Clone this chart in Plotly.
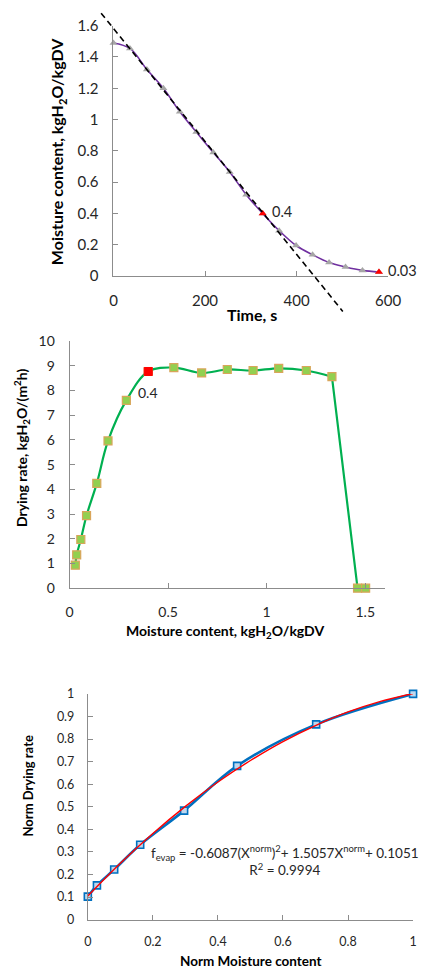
import plotly.graph_objects as go

W, H = 428, 980

# ---------------- data: chart 1 (moisture vs time) ----------------
time_s = [0, 36, 73, 109, 145, 181, 218, 254, 290, 326, 362, 399, 435, 471, 507, 544, 580]
moisture = [1.49, 1.455, 1.32, 1.20, 1.05, 0.92, 0.79, 0.665, 0.52, 0.40, 0.29, 0.195,
            0.136, 0.086, 0.058, 0.036, 0.025]
hl_time = [326, 580]
hl_moisture = [0.40, 0.025]
hl_labels = ["0.4", "0.03"]
tangent_time = [-27, 501]
tangent_moisture = [1.68, -0.226]
top_xticks = [0, 200, 400, 600]
top_yticks = [0, 0.2, 0.4, 0.6, 0.8, 1, 1.2, 1.4, 1.6]
top_yticktext = ["0", "0.2", "0.4", "0.6", "0.8", "1", "1.2", "1.4", "1.6"]

# ---------------- data: chart 2 (drying rate vs moisture) ----------------
mc = [0.029, 0.036, 0.057, 0.086, 0.138, 0.195, 0.288, 0.399, 0.529, 0.670, 0.800,
      0.931, 1.061, 1.201, 1.331, 1.461, 1.502]
rate = [0.93, 1.35, 1.97, 2.94, 4.24, 5.96, 7.60, 8.77, 8.93, 8.71, 8.85, 8.81, 8.90,
        8.81, 8.56, 0.0, 0.0]
falling_start = 14  # index from which the curve drops almost straight
crit_mc = [0.399]
crit_rate = [8.77]
crit_label = ["0.4"]
mid_xticks = [0, 0.5, 1, 1.5]
mid_xticktext = ["0", "0.5", "1", "1.5"]
mid_yticks = [0, 1, 2, 3, 4, 5, 6, 7, 8, 9, 10]

# ---------------- data: chart 3 (normalised) ----------------
x_norm = [0, 0.028, 0.081, 0.161, 0.296, 0.459, 0.702, 1.0]
f_norm = [0.102, 0.152, 0.222, 0.332, 0.483, 0.681, 0.865, 1.0]
trend_x = [0, 0.1, 0.2, 0.3, 0.4, 0.5, 0.6, 0.7, 0.8, 0.9, 1.0]
trend_y = [0.105, 0.250, 0.382, 0.502, 0.610, 0.705, 0.789, 0.860, 0.920, 0.967, 1.002]
bot_xticks = [0, 0.2, 0.4, 0.6, 0.8, 1]
bot_xticktext = ["0", "0.2", "0.4", "0.6", "0.8", "1"]
bot_yticks = [0, 0.1, 0.2, 0.3, 0.4, 0.5, 0.6, 0.7, 0.8, 0.9, 1]
bot_yticktext = ["0", "0.1", "0.2", "0.3", "0.4", "0.5", "0.6", "0.7", "0.8", "0.9", "1"]
equation = ("f<sub>evap</sub> = -0.6087(X<sup>norm</sup>)<sup>2</sup>+ 1.5057X<sup>norm</sup>"
            "+ 0.1051<br>R<sup>2</sup> = 0.9994")

# ---------------- layout geometry (pixels) ----------------
FONT = "Lato"
AX = "#8c8c8c"
TXT = "#262626"


def xd(a, b):
    return [a / W, b / W]


def yd(top, bot):
    return [1 - bot / H, 1 - top / H]


def px(x):
    return x / W


def py(y):
    return 1 - y / H


T_X0, T_X1, T_Y0, T_Y1 = 114, 400, 271, 16
T_XR, T_YR = [0, 600], [0, 1.6]
M_X0, M_X1, M_Y0, M_Y1 = 68.3, 396.7, 589, 337.3
M_XR, M_YR = [0, 1.6], [0, 10]
B_X0, B_X1, B_Y0, B_Y1 = 87.3, 426, 926.7, 696.7
B_XR, B_YR = [0, 1], [0, 1]

fig = go.Figure()

# chart 1 traces
fig.add_trace(go.Scatter(x=time_s, y=moisture, mode="lines+markers",
                         line=dict(color="#7030A0", width=1.6, shape="spline", smoothing=1),
                         marker=dict(symbol="triangle-up", size=7, color="#A6A6A6"),
                         cliponaxis=False, xaxis="x", yaxis="y", showlegend=False))
fig.add_trace(go.Scatter(x=hl_time, y=hl_moisture, mode="markers",
                         marker=dict(symbol="triangle-up", size=7, color="#FF0000"),
                         cliponaxis=False, xaxis="x", yaxis="y", showlegend=False))
# tangent (overlay axes so it can run past the axis frame)
fig.add_trace(go.Scatter(x=tangent_time, y=tangent_moisture, mode="lines",
                         line=dict(color="#000000", width=1.6, dash="6px,4px"),
                         xaxis="x2", yaxis="y2", showlegend=False))

# chart 2 traces
fig.add_trace(go.Scatter(x=mc[:falling_start + 1], y=rate[:falling_start + 1], mode="lines",
                         line=dict(color="#00B050", width=2.2, shape="spline", smoothing=1),
                         xaxis="x3", yaxis="y3", showlegend=False))
fig.add_trace(go.Scatter(x=mc[falling_start:], y=rate[falling_start:], mode="lines",
                         line=dict(color="#00B050", width=2.2),
                         xaxis="x3", yaxis="y3", showlegend=False))
fig.add_trace(go.Scatter(x=mc, y=rate, mode="markers",
                         marker=dict(symbol="square", size=8, color="#92D050",
                                     line=dict(color="#D9A55A", width=1.2)),
                         cliponaxis=False, xaxis="x3", yaxis="y3", showlegend=False))
fig.add_trace(go.Scatter(x=crit_mc, y=crit_rate, mode="markers",
                         marker=dict(symbol="square", size=8, color="#FF0000",
                                     line=dict(color="#FF0000", width=1)),
                         cliponaxis=False, xaxis="x3", yaxis="y3", showlegend=False))

# chart 3 traces
fig.add_trace(go.Scatter(x=x_norm, y=f_norm, mode="lines+markers",
                         line=dict(color="#0070C0", width=2.6, shape="spline", smoothing=1),
                         marker=dict(symbol="square", size=7, color="#BDD7EE",
                                     line=dict(color="#0070C0", width=1.6)),
                         cliponaxis=False, xaxis="x4", yaxis="y4", showlegend=False))
fig.add_trace(go.Scatter(x=trend_x, y=trend_y, mode="lines",
                         line=dict(color="#FF0000", width=1.4, shape="spline", smoothing=1),
                         xaxis="x4", yaxis="y4", showlegend=False))


def axis_common(size, standoff):
    return dict(showline=True, linecolor=AX, linewidth=1, ticks="inside", ticklen=5,
                tickcolor=AX, tickwidth=1, showgrid=False, zeroline=False,
                tickfont=dict(family=FONT, size=size, color=TXT),
                ticklabelstandoff=standoff, fixedrange=True)


t_per_px = (T_XR[1] - T_XR[0]) / (T_X1 - T_X0)
m_per_px = (T_YR[1] - T_YR[0]) / (T_Y0 - T_Y1)
OV_TOP, OV_BOT = 0, 330
OV_L, OV_R = 60, 420
ov_xr = [T_XR[0] + (OV_L - T_X0) * t_per_px, T_XR[0] + (OV_R - T_X0) * t_per_px]
ov_yr = [T_YR[0] + (T_Y0 - OV_BOT) * m_per_px, T_YR[0] + (T_Y0 - OV_TOP) * m_per_px]

fig.update_layout(
    width=W, height=H, margin=dict(l=0, r=0, t=0, b=0),
    paper_bgcolor="white", plot_bgcolor="rgba(0,0,0,0)",
    xaxis=dict(domain=xd(T_X0, T_X1), range=T_XR, anchor="y", tickvals=top_xticks,
               **axis_common(15, 11)),
    yaxis=dict(domain=yd(T_Y1, T_Y0), range=T_YR, anchor="x", tickvals=top_yticks,
               ticktext=top_yticktext, **axis_common(15, 11)),
    xaxis2=dict(domain=xd(OV_L, OV_R), range=ov_xr, anchor="y2", visible=False,
                fixedrange=True),
    yaxis2=dict(domain=yd(OV_TOP, OV_BOT), range=ov_yr, anchor="x2", visible=False,
                fixedrange=True),
    xaxis3=dict(domain=xd(M_X0, M_X1), range=M_XR, anchor="y3", tickvals=mid_xticks,
                ticktext=mid_xticktext, **axis_common(14, 11)),
    yaxis3=dict(domain=yd(M_Y1, M_Y0), range=M_YR, anchor="x3", tickvals=mid_yticks,
                **axis_common(14, 11)),
    xaxis4=dict(domain=xd(B_X0, B_X1), range=B_XR, anchor="y4", tickvals=bot_xticks,
                ticktext=bot_xticktext, **axis_common(12.5, 10)),
    yaxis4=dict(domain=yd(B_Y1, B_Y0), range=B_YR, anchor="x4", tickvals=bot_yticks,
                ticktext=bot_yticktext, **axis_common(12.5, 10)),
)

ann = []
bold = dict(family=FONT, size=16, color="#000000")
ann.append(dict(text="<b>Moisture content, kgH<sub>2</sub>O/kgDV</b>", x=px(56), y=py(144),
                xref="paper", yref="paper", textangle=-90, showarrow=False, font=bold,
                xanchor="center", yanchor="middle"))
ann.append(dict(text="<b>Time, s</b>", x=px(258), y=py(310), xref="paper", yref="paper",
                showarrow=False, font=bold, xanchor="center", yanchor="middle"))
for t, m, lab in zip(hl_time, hl_moisture, hl_labels):
    ann.append(dict(text=lab, x=t, y=m, xref="x", yref="y", showarrow=False,
                    xanchor="left", yanchor="middle", xshift=7, yshift=2,
                    font=dict(family=FONT, size=14.5, color=TXT)))
ann.append(dict(text="<b>Drying rate, kgH<sub>2</sub>O/(m<sup>2</sup>h)</b>", x=px(19), y=py(446),
                xref="paper", yref="paper", textangle=-90, showarrow=False,
                font=dict(family=FONT, size=14, color="#000000"),
                xanchor="center", yanchor="middle"))
ann.append(dict(text="<b>Moisture content, kgH<sub>2</sub>O/kgDV</b>", x=px(230), y=py(633),
                xref="paper", yref="paper", showarrow=False,
                font=dict(family=FONT, size=14, color="#000000"),
                xanchor="center", yanchor="middle"))
for xv, yv, lab in zip(crit_mc, crit_rate, crit_label):
    ann.append(dict(text=lab, x=xv, y=yv, xref="x3", yref="y3", showarrow=False,
                    xanchor="center", yanchor="middle", yshift=-21,
                    font=dict(family=FONT, size=14, color=TXT)))
ann.append(dict(text="<b>Norm Drying rate</b>", x=px(26), y=py(790), xref="paper", yref="paper",
                textangle=-90, showarrow=False,
                font=dict(family=FONT, size=13, color="#000000"),
                xanchor="center", yanchor="middle"))
ann.append(dict(text="<b>Norm Moisture content</b>", x=px(257), y=py(969), xref="paper",
                yref="paper", showarrow=False,
                font=dict(family=FONT, size=13.5, color="#000000"),
                xanchor="center", yanchor="middle"))
ann.append(dict(text=equation, x=px(293), y=py(866), xref="paper", yref="paper",
                showarrow=False, align="center", xanchor="center", yanchor="middle",
                font=dict(family=FONT, size=13.5, color=TXT)))

fig.update_layout(annotations=ann)
fig.write_html("out.html", config={"staticPlot": True, "displayModeBar": False})
